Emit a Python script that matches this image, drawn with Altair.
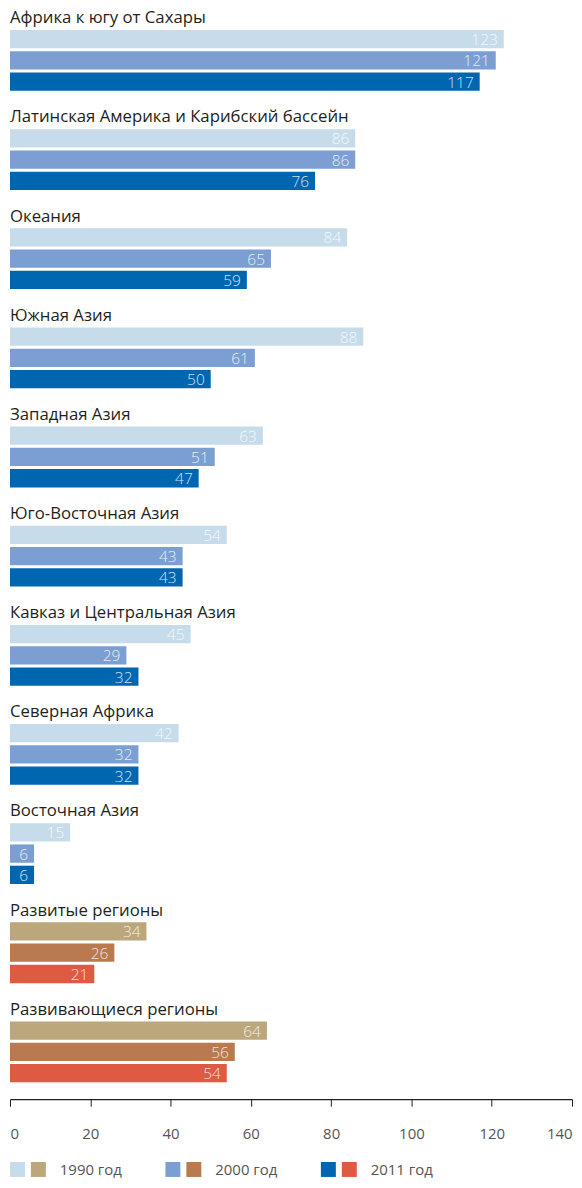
import altair as alt
import pandas as pd

groups = [
    "Африка к югу от Сахары",
    "Латинская Америка и Карибский бассейн",
    "Океания",
    "Южная Азия",
    "Западная Азия",
    "Юго-Восточная Азия",
    "Кавказ и Центральная Азия",
    "Северная Африка",
    "Восточная Азия",
    "Развитые регионы",
    "Развивающиеся регионы",
]
kinds = ["r", "r", "r", "r", "r", "r", "r", "r", "r", "a", "a"]
v1990 = [123, 86, 84, 88, 63, 54, 45, 42, 15, 34, 64]
v2000 = [121, 86, 65, 61, 51, 43, 29, 32, 6, 26, 56]
v2011 = [117, 76, 59, 50, 47, 43, 32, 32, 6, 21, 54]
years = ["1990 год", "2000 год", "2011 год"]
x_ticks = [0, 20, 40, 60, 80, 100, 120, 140]

blues = ["#c6dcea", "#7b9fd2", "#0066b0"]
browns = ["#bba77b", "#b87a4e", "#df5a42"]

FONT = "Open Sans"

rows = []
for g, k, a, b, c in zip(groups, kinds, v1990, v2000, v2011):
    for yr, v in zip(years, [a, b, c]):
        rows.append({"group": g, "year": yr, "value": v, "series": k + yr})
df = pd.DataFrame(rows)

series_domain = ["r" + y for y in years] + ["a" + y for y in years]
color_scale = alt.Scale(domain=series_domain, range=blues + browns)

base = alt.Chart(df).encode(
    y=alt.Y("year:N", axis=None, scale=alt.Scale(paddingInner=0.14, paddingOuter=0)),
)

bars = base.mark_bar().encode(
    x=alt.X(
        "value:Q",
        scale=alt.Scale(domain=[0, 140], nice=False),
        axis=alt.Axis(
            values=x_ticks,
            title=None,
            grid=False,
            domainColor="#231f20",
            domainWidth=1.2,
            tickColor="#231f20",
            tickSize=7,
            labelPadding=20,
            labelFlush=True,
            labelFont=FONT,
            labelFontSize=15,
            labelColor="#555555",
            offset=16,
        ),
    ),
    color=alt.Color("series:N", scale=color_scale, legend=None),
)

labels = base.mark_text(
    align="right", baseline="middle", dx=-6, dy=1, color="white",
    opacity=0.8, font=FONT, fontSize=15.5, fontWeight=300,
).encode(x="value:Q", text="value:Q")

main = alt.layer(bars, labels).properties(width=564, height=61).facet(
    facet=alt.Facet(
        "group:N",
        sort=groups,
        header=alt.Header(
            title=None,
            labelAnchor="start",
            labelFont=FONT,
            labelFontSize=16.8,
            labelColor="#231f20",
            labelPadding=3,
        ),
    ),
    columns=1,
    spacing=17.5,
)

leg_df = pd.DataFrame({"year": years, "blue": blues, "brown": browns})
lbase = alt.Chart(leg_df).encode(
    x=alt.X("year:N", axis=None, sort=years, scale=alt.Scale(type="point", padding=0)),
)
sw1 = lbase.mark_square(size=225, opacity=1, xOffset=7.5).encode(
    color=alt.Color("blue:N", scale=None)
)
sw2 = lbase.mark_square(size=225, opacity=1, xOffset=28.5).encode(
    color=alt.Color("brown:N", scale=None)
)
ltxt = lbase.mark_text(
    align="left", baseline="middle", dx=50, dy=1, font=FONT, fontSize=15, color="#555555"
).encode(text="year:N")
legend = alt.layer(sw1, sw2, ltxt).properties(width=312, height=15)

chart = alt.vconcat(main, legend, spacing=21).properties(
    padding={"left": 1, "right": 1, "top": 0, "bottom": 0}
).configure_view(stroke=None)
chart.save("out.html", embed_options={"renderer": "svg", "actions": False})
